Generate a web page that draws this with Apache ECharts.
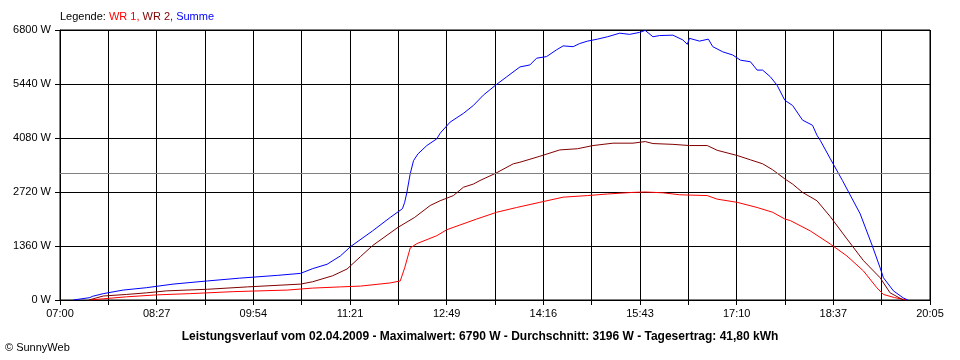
<!DOCTYPE html>
<html>
<head>
<meta charset="utf-8">
<script src="https://cdn.jsdelivr.net/npm/echarts@6/dist/echarts.min.js"></script>
<style>
html,body{margin:0;padding:0;background:#fff;}
#chart{width:960px;height:360px;}
</style>
</head>
<body>
<div id="chart"></div>
<script>
// ---- data ----
var startTime = "07:00";
var endTime = "20:05";
var xTickLabels = ["07:00","08:27","09:54","11:21","12:49","14:16","15:43","17:10","18:37","20:05"];
var yMax = 6800;
var yStep = 1360;
var average = 3196;

var wr1Times = ["07:27","07:39","08:00","08:28","08:57","09:36","10:25","10:48","11:13","11:31","11:58","12:07","12:11","12:16","12:22","12:40","12:49","13:16","13:34","13:52","14:13","14:34","14:56","15:14","15:37","15:48","16:04","16:19","16:44","16:53","17:11","17:29","17:43","17:54","17:59","18:17","18:35","18:50","19:05","19:17","19:23","19:33","19:44"];
var wr1Values = [0,30,80,130,160,210,250,300,330,350,430,480,810,1310,1420,1620,1770,2040,2210,2330,2460,2590,2630,2670,2710,2720,2700,2650,2630,2540,2460,2330,2210,2040,2000,1740,1410,1110,730,310,140,60,0];

var wr2Times = ["07:26","07:39","08:00","08:18","08:36","09:13","09:49","10:37","10:48","11:06","11:19","11:31","11:42","12:05","12:20","12:34","12:43","12:55","13:04","13:13","13:19","13:33","13:49","13:55","14:13","14:31","14:47","15:01","15:19","15:37","15:48","15:55","16:13","16:28","16:44","16:53","17:11","17:23","17:34","17:43","17:54","18:01","18:10","18:23","18:35","18:50","19:05","19:20","19:29","19:41"];
var wr2Values = [0,100,140,180,230,270,330,400,460,610,780,1090,1370,1830,2080,2380,2500,2630,2840,2920,3010,3190,3430,3470,3620,3780,3810,3890,3950,3950,3990,3940,3920,3890,3890,3770,3640,3530,3430,3280,3050,2920,2710,2500,2100,1540,990,560,180,0];

var sumTimes = ["07:12","07:27","07:29","07:39","07:57","08:18","08:42","09:13","09:42","10:16","10:37","10:48","11:01","11:13","11:22","11:42","11:58","12:09","12:11","12:13","12:16","12:19","12:23","12:31","12:40","12:43","12:52","13:04","13:13","13:22","13:33","13:43","13:55","14:04","14:10","14:19","14:28","14:34","14:43","14:49","14:56","15:05","15:14","15:25","15:34","15:43","15:48","15:55","16:01","16:13","16:22","16:26","16:28","16:37","16:45","16:49","16:58","17:07","17:14","17:23","17:29","17:34","17:41","17:47","17:54","18:01","18:10","18:19","18:23","18:26","18:35","18:46","19:02","19:13","19:20","19:23","19:32","19:41","19:45"];
var sumValues = [0,60,90,160,250,310,400,480,550,620,670,790,900,1110,1340,1740,2080,2300,2460,2710,3180,3510,3680,3890,4060,4200,4480,4700,4900,5160,5410,5620,5870,5920,6090,6130,6300,6400,6380,6460,6520,6570,6630,6720,6690,6740,6790,6630,6660,6670,6550,6440,6590,6520,6570,6380,6250,6170,6040,6000,5790,5790,5620,5410,5030,4900,4530,4400,4150,4020,3560,3010,2170,1360,810,560,230,50,0];

// ---- helpers ----
function toMin(s){var p=s.split(":");return (+p[0])*60+(+p[1]);}
var t0 = toMin(startTime);
var span = toMin(endTime) - t0;
var xInterval = span / 18;
function pairs(times, vals){return times.map(function(t,i){return [toMin(t)-t0, vals[i]];});}

var font = "'Liberation Sans', Arial, sans-serif";
var chart = echarts.init(document.getElementById('chart'), null, {renderer:'canvas'});
chart.setOption({
  animation:false,
  backgroundColor:'#ffffff',
  textStyle:{fontFamily:font},
  title:[
    {
      left:55, top:6,
      text:'{k|Legende: }{a|WR 1, }{b|WR 2, }{c|Summe}',
      textStyle:{
        fontWeight:'normal',
        rich:{
          k:{color:'#000000',fontSize:11,fontWeight:'normal',fontFamily:font},
          a:{color:'#ff0000',fontSize:11,fontWeight:'normal',fontFamily:font},
          b:{color:'#800000',fontSize:11,fontWeight:'normal',fontFamily:font},
          c:{color:'#0000ff',fontSize:11,fontWeight:'normal',fontFamily:font}
        }
      }
    },
    {
      left:'center', top:326,
      text:'Leistungsverlauf vom 02.04.2009 - Maximalwert: 6790 W - Durchschnitt: 3196 W - Tagesertrag: 41,80 kWh',
      textStyle:{color:'#000000',fontSize:12,fontWeight:'bold',fontFamily:font}
    },
    {
      left:0, top:337,
      text:'\u00a9 SunnyWeb',
      textStyle:{color:'#000000',fontSize:11,fontWeight:'normal',fontFamily:font}
    }
  ],
  grid:{left:60,right:30,top:30,bottom:60,show:true,borderColor:'#000000',borderWidth:1,backgroundColor:'transparent'},
  xAxis:{
    type:'value', min:0, max:span, interval:xInterval,
    axisLine:{show:true,lineStyle:{color:'#000000',width:1}},
    axisTick:{show:true,length:5,lineStyle:{color:'#000000'}},
    splitLine:{show:true,lineStyle:{color:'#000000',width:1}},
    axisLabel:{
      color:'#000000', fontSize:11, fontFamily:font, margin:8,
      showMinLabel:true, showMaxLabel:true, hideOverlap:false,
      formatter:function(v){
        var i=Math.round(v/xInterval);
        return (i%2===0)? xTickLabels[i/2] : '';
      }
    }
  },
  yAxis:{
    type:'value', min:0, max:yMax, interval:yStep,
    axisLine:{show:true,lineStyle:{color:'#000000',width:1}},
    axisTick:{show:true,length:5,lineStyle:{color:'#000000'}},
    splitLine:{show:true,lineStyle:{color:'#000000',width:1}},
    axisLabel:{color:'#000000',fontSize:11,fontFamily:font,margin:9,
      formatter:function(v){return String(v)+' W';}}
  },
  series:[
    {
      name:'WR 1', type:'line', data:pairs(wr1Times,wr1Values), showSymbol:false, symbol:'none',
      lineStyle:{color:'#ff0000',width:1}, itemStyle:{color:'#ff0000'},
      markLine:{silent:true,symbol:['none','none'],label:{show:false},
        lineStyle:{color:'#808080',type:'solid',width:1},
        data:[{yAxis:average}]}
    },
    {
      name:'WR 2', type:'line', data:pairs(wr2Times,wr2Values), showSymbol:false, symbol:'none',
      lineStyle:{color:'#800000',width:1}, itemStyle:{color:'#800000'}
    },
    {
      name:'Summe', type:'line', data:pairs(sumTimes,sumValues), showSymbol:false, symbol:'none',
      lineStyle:{color:'#0000ff',width:1}, itemStyle:{color:'#0000ff'}
    }
  ]
});
</script>
</body>
</html>
